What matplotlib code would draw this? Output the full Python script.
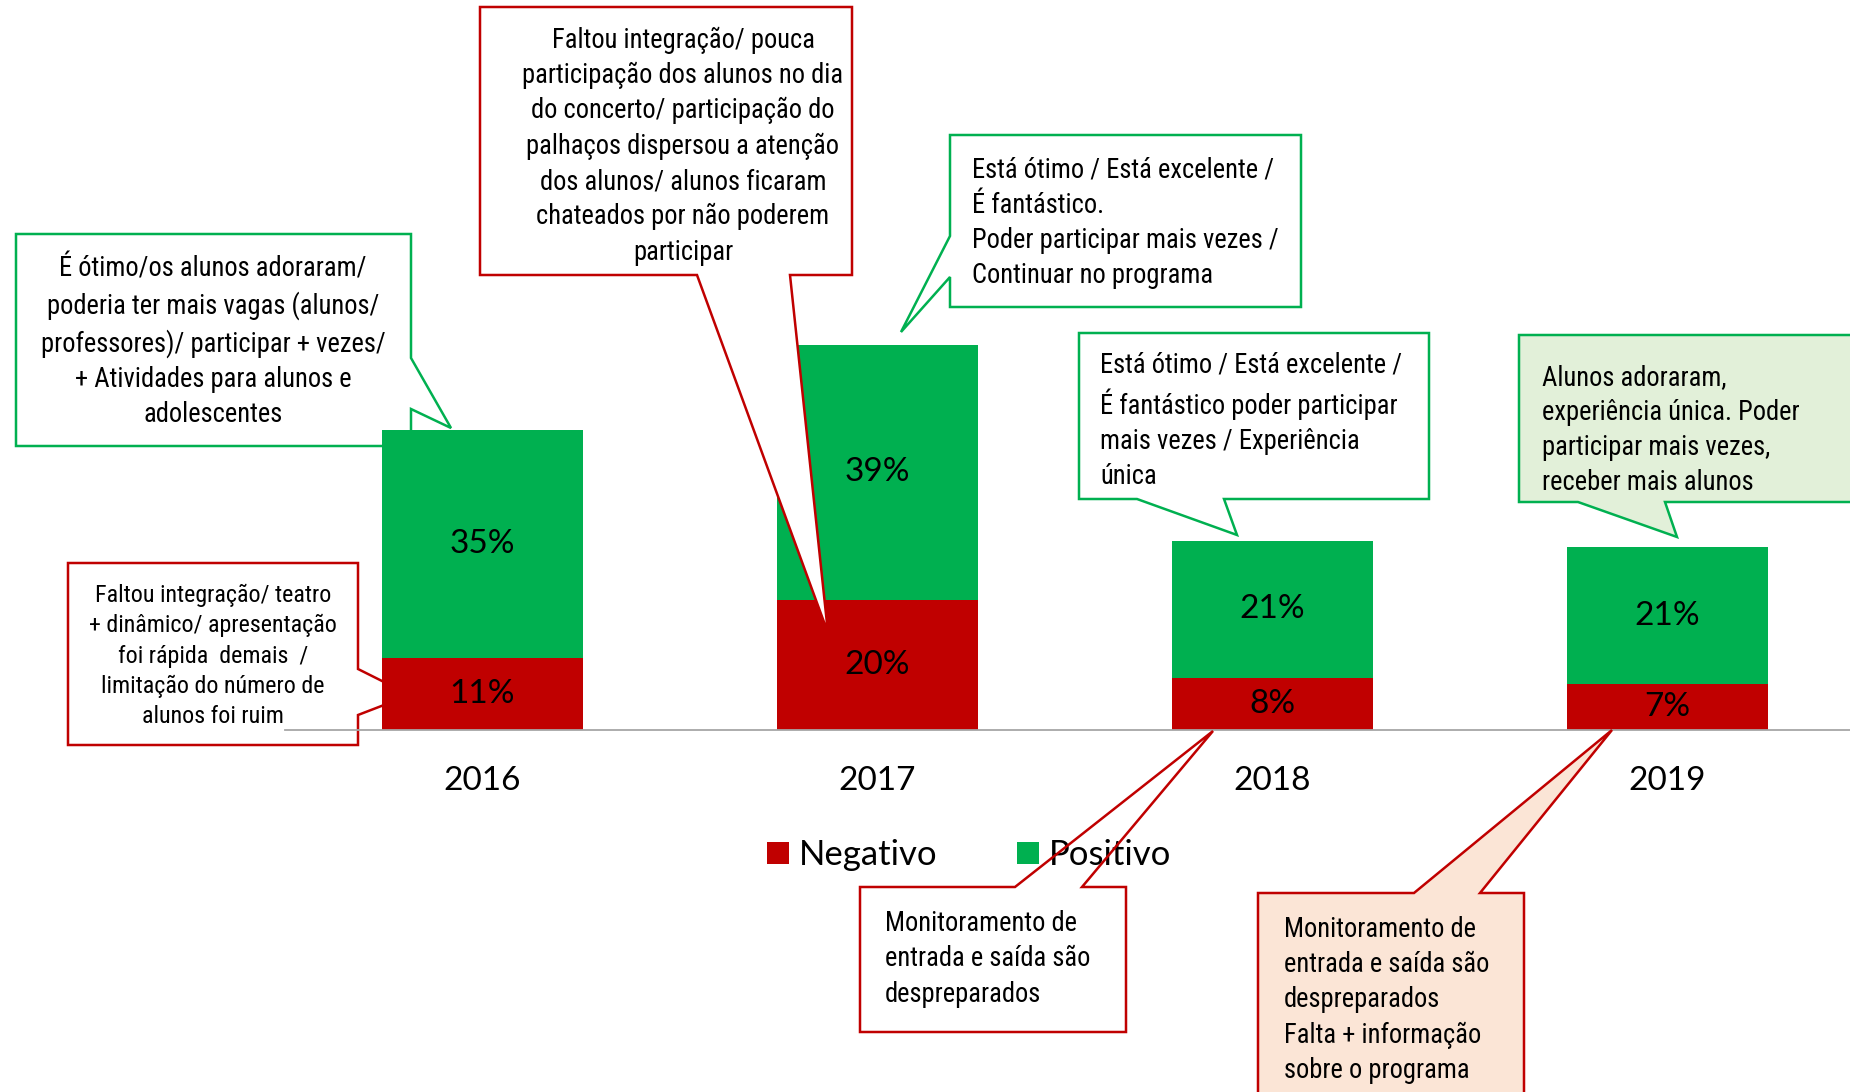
import matplotlib
matplotlib.use('Agg')
import matplotlib.pyplot as plt
from matplotlib.patches import Polygon
from matplotlib.transforms import Affine2D
from matplotlib import font_manager
import numpy as np

# ---------------- data ----------------
years = ['2016', '2017', '2018', '2019']
negativo = [11, 20, 8, 7]
positivo = [35, 39, 21, 21]
series_labels = ['Negativo', 'Positivo']

txt_2016_pos = ["É ótimo/os alunos adoraram/", "poderia ter mais vagas (alunos/",
                "professores)/ participar + vezes/", "+ Atividades para alunos e", "adolescentes"]
txt_2016_neg = ["Faltou integração/ teatro", "+ dinâmico/ apresentação", "foi rápida  demais  /",
                "limitação do número de", "alunos foi ruim"]
txt_2017_neg = ["Faltou integração/ pouca", "participação dos alunos no dia",
                "do concerto/ participação do", "palhaços dispersou a atenção",
                "dos alunos/ alunos ficaram", "chateados por não poderem", "participar"]
txt_2017_pos = ["Está ótimo / Está excelente /", "É fantástico.",
                "Poder participar mais vezes /", "Continuar no programa"]
txt_2018_pos = ["Está ótimo / Está excelente /", "É fantástico poder participar",
                "mais vezes / Experiência", "única"]
txt_2019_pos = ["Alunos adoraram,", "experiência única. Poder",
                "participar mais vezes,", "receber mais alunos"]
txt_2018_neg = ["Monitoramento de", "entrada e saída são", "despreparados"]
txt_2019_neg = ["Monitoramento de", "entrada e saída são", "despreparados",
                "Falta + informação", "sobre o programa"]

# ---------------- style ----------------
RED = '#C00000'
GREEN = '#00B050'
names = {f.name for f in font_manager.fontManager.ttflist}
NARROW, SCALE = 'Roboto', 0.745
for cand, sc in [('Liberation Sans Narrow', 1.0), ('Arial Narrow', 1.0), ('Roboto Condensed', 0.91)]:
    if cand in names:
        NARROW, SCALE = cand, sc
        break
CAL = ['Lato', 'DejaVu Sans']

W, H = 1850, 1092
fig = plt.figure(figsize=(W / 100, H / 100), dpi=100)
ax = fig.add_axes([285 / W, (H - 730) / H, 1580 / W, 652.5 / H])

x = np.arange(len(years))
bn = ax.bar(x, negativo, width=0.51, color=RED, label=series_labels[0], zorder=1)
bp = ax.bar(x, positivo, bottom=negativo, width=0.51, color=GREEN, label=series_labels[1], zorder=1)
ax.bar_label(bn, labels=[f'{v}%' for v in negativo], label_type='center',
             fontsize=24, family=CAL, color='black')
ax.bar_label(bp, labels=[f'{v}%' for v in positivo], label_type='center',
             fontsize=24, family=CAL, color='black')

for s in ['top', 'right', 'left']:
    ax.spines[s].set_visible(False)
ax.spines['bottom'].set_color('#A6A6A6')
ax.spines['bottom'].set_linewidth(1.3)
ax.set_yticks([])
ax.set_xticks(x, years)
for t in ax.get_xticklabels():
    t.set_fontsize(24)
    t.set_family(CAL)
ax.tick_params(axis='x', length=0, pad=26)

leg = ax.legend(handles=[bn, bp], labels=series_labels, loc='center left',
                bbox_to_anchor=(767 / W, 1 - 855 / H), bbox_transform=fig.transFigure,
                ncol=2, frameon=False, prop={'family': CAL, 'size': 25},
                handlelength=0.62, handleheight=0.62, handletextpad=0.3,
                columnspacing=2.3, borderpad=0, borderaxespad=0)
leg.set_zorder(3)

# pixel (top-left origin) transform for callouts
T = Affine2D().scale(1 / W, -1 / H).translate(0, 1) + fig.transFigure


def callout(pts, edge, face, z, lines, tx, ty, ha='left', fs=21, pitch=35):
    fill = face is not None
    ax.add_patch(Polygon(pts, closed=True, transform=T, clip_on=False,
                         facecolor=face if fill else 'none', edgecolor=edge,
                         linewidth=1.8, zorder=z, joinstyle='miter'))
    size = fs * SCALE
    em = size * 100 / 72
    ls = (0.95 * pitch - 0.21 * em) / (0.752 * em)
    ax.text(tx, ty, '\n'.join(lines), transform=T, ha=ha, va='center',
            multialignment=ha, fontsize=size, family=NARROW,
            linespacing=ls, zorder=z + 0.1, color='black')


# 2016 positive (under bars)
callout([(16, 234), (411, 234), (411, 358), (451, 428), (411, 409), (411, 446), (16, 446)],
        GREEN, 'white', 0.5, txt_2016_pos, 213, 342, ha='center')
# 2016 negative (under bars)
callout([(68, 563), (358, 563), (358, 669), (410, 695), (358, 715), (358, 745), (68, 745)],
        RED, 'white', 0.5, txt_2016_neg, 213, 656, ha='center', fs=19, pitch=32)
# 2017 negative (over bars)
callout([(480, 7), (852, 7), (852, 275), (790, 275), (828, 633), (697, 275), (480, 275)],
        RED, 'white', 4, txt_2017_neg, 683, 146, ha='center')
# 2017 positive
callout([(950, 135), (1301, 135), (1301, 307), (950, 307), (950, 277), (901, 332), (950, 236)],
        GREEN, 'white', 4, txt_2017_pos, 972, 223)
# 2018 positive
callout([(1079, 333), (1429, 333), (1429, 499), (1224, 499), (1237, 535), (1137, 499), (1079, 499)],
        GREEN, 'white', 4, txt_2018_pos, 1100, 421)
# 2019 positive
callout([(1519, 335), (1880, 335), (1880, 502), (1665, 502), (1677, 537), (1578, 502), (1519, 502)],
        GREEN, '#E2F0D9', 4, txt_2019_pos, 1542, 430)
# 2018 negative (no fill, over legend)
callout([(860, 887), (1015, 887), (1213, 731), (1082, 887), (1126, 887), (1126, 1032), (860, 1032)],
        RED, None, 4, txt_2018_neg, 885, 959)
# 2019 negative
callout([(1258, 893), (1414, 893), (1612, 730), (1480, 893), (1524, 893), (1524, 1120), (1258, 1120)],
        RED, '#FBE5D6', 4, txt_2019_neg, 1284, 1000)

ax.set_xlim(-0.5, 3.5)
ax.set_ylim(0, 100)
fig.savefig('out.png', dpi=100, facecolor='white')
